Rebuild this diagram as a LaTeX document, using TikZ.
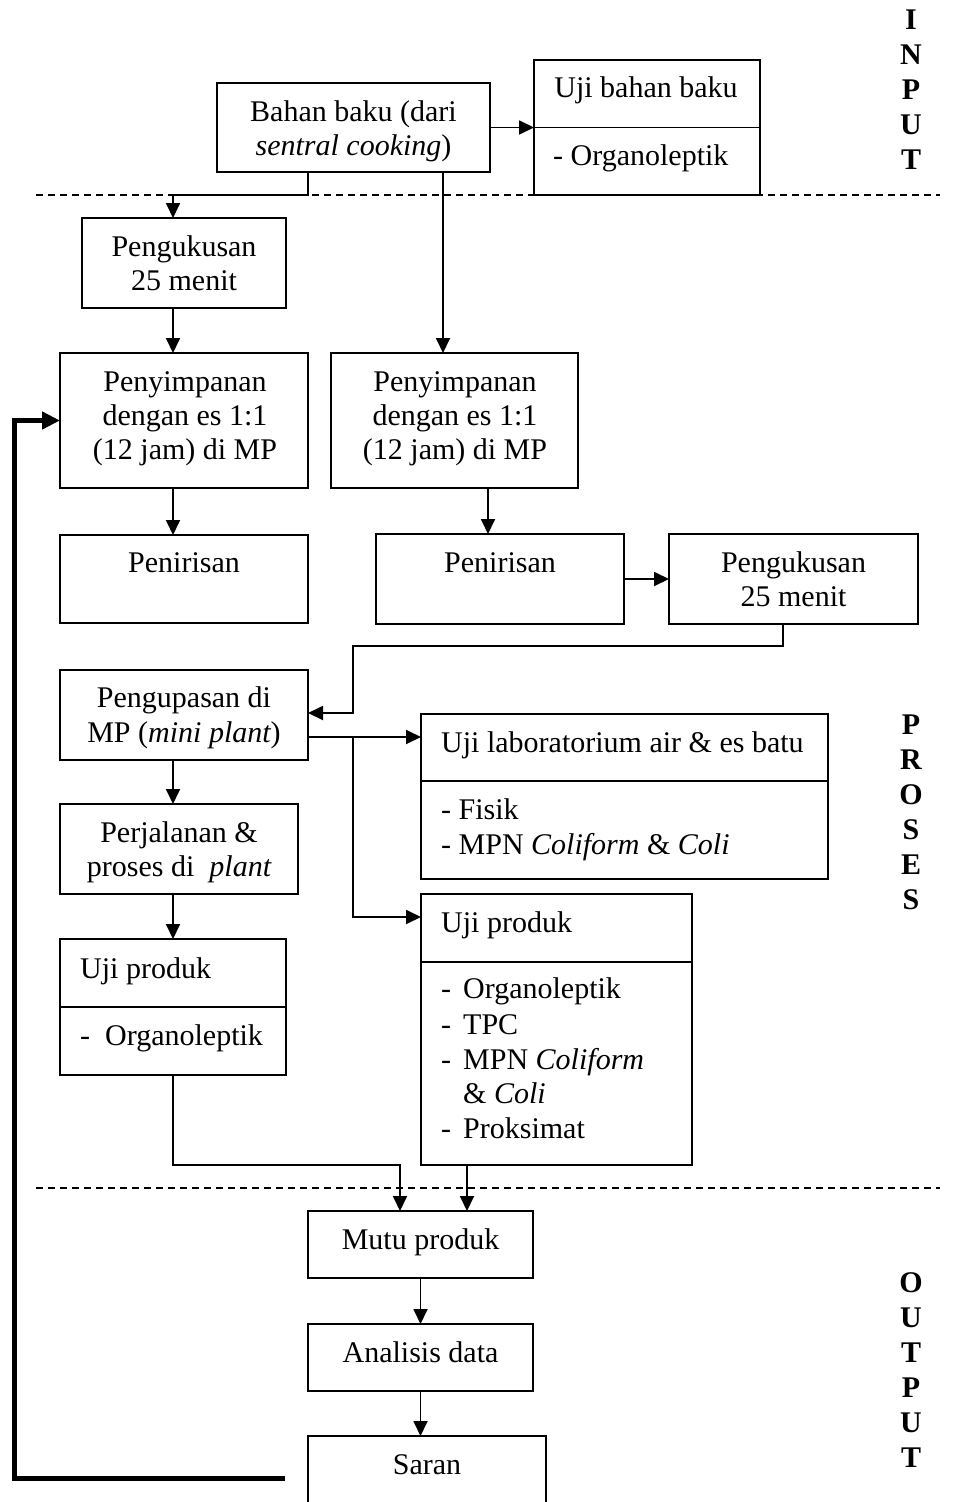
\documentclass[tikz,border=0pt]{standalone}
\usepackage{fontspec}
\setmainfont{Liberation Serif}
\usetikzlibrary{arrows.meta,calc}
\begin{document}
\begin{tikzpicture}[x=1pt,y=-1pt,
 box/.style={draw, line width=1.8pt, rectangle, inner sep=0pt, outer sep=0pt},
 t/.style={anchor=base, inner sep=0pt, font=\fontsize{30}{34.5}\selectfont},
 tl/.style={t, anchor=base west},
 side/.style={inner sep=0pt, align=center, font=\fontsize{30}{35}\selectfont\bfseries},
 arr/.style={line width=1.8pt, -{Triangle[length=15pt,width=14pt]}},
 fbk/.style={line width=5pt, -{Triangle[length=18pt,width=17pt]}},
 sep/.style={line width=1.6pt, dash pattern=on 7pt off 5pt},
 divl/.style={line width=1.8pt}]
\useasboundingbox (0,0) rectangle (954,1502);

% boxes
\node[box, minimum width=273pt, minimum height=89pt] (bahan) at (353.5,127.5) {};
\node[box, minimum width=226pt, minimum height=135pt] (ujibb) at (647,127.5) {};
\node[box, minimum width=204pt, minimum height=90pt] (peng1) at (184,263) {};
\node[box, minimum width=248pt, minimum height=135pt] (simp1) at (184,420.5) {};
\node[box, minimum width=247pt, minimum height=135pt] (simp2) at (454.5,420.5) {};
\node[box, minimum width=248pt, minimum height=88pt] (pen1) at (184,579) {};
\node[box, minimum width=248pt, minimum height=90pt] (pen2) at (500,579) {};
\node[box, minimum width=249pt, minimum height=90pt] (peng2) at (793.5,579) {};
\node[box, minimum width=248pt, minimum height=90pt] (kupas) at (184,715) {};
\node[box, minimum width=238pt, minimum height=90pt] (jalan) at (179,849) {};
\node[box, minimum width=226pt, minimum height=136pt] (ujip1) at (173,1007) {};
\node[box, minimum width=407pt, minimum height=165pt] (ujilab) at (624.5,796.5) {};
\node[box, minimum width=271pt, minimum height=271pt] (ujip2) at (556.5,1029.5) {};
\node[box, minimum width=225pt, minimum height=67pt] (mutu) at (420.5,1244.5) {};
\node[box, minimum width=225pt, minimum height=67pt] (anal) at (420.5,1357.5) {};
\node[box, minimum width=238pt, minimum height=84pt] (saran) at (427,1478) {};

% dividers
\draw[divl] (ujibb.west) -- (ujibb.east);
\draw[divl] (ujip1.west) -- (ujip1.east);
\draw[divl] ([yshift=15.5pt]ujilab.west) -- ([yshift=15.5pt]ujilab.east);
\draw[divl] ([yshift=67.5pt]ujip2.west) -- ([yshift=67.5pt]ujip2.east);

% texts
\node[t] (tb1) at (353.5,121) {Bahan baku (dari};
\node[t] (tb2) at (353.5,155) {\itshape sentral cooking\upshape)};
\node[t] (tu1) at (646,97) {Uji bahan baku};
\node[tl] (tu2) at (553,165) {- Organoleptik};
\node[t] (tp1) at (184,256) {Pengukusan};
\node[t] (tp2) at (184,290) {25 menit};
\node[t] (ts1) at (185,391) {Penyimpanan};
\node[t] (ts2) at (185,425) {dengan es 1:1};
\node[t] (ts3) at (185,459) {(12 jam) di MP};
\node[t] (ts4) at (455,391) {Penyimpanan};
\node[t] (ts5) at (455,425) {dengan es 1:1};
\node[t] (ts6) at (455,459) {(12 jam) di MP};
\node[t] (tn1) at (184,572) {Penirisan};
\node[t] (tn2) at (500,572) {Penirisan};
\node[t] (tk1) at (793.5,572) {Pengukusan};
\node[t] (tk2) at (793.5,606) {25 menit};
\node[t] (tg1) at (184,707) {Pengupasan di};
\node[t] (tg2) at (184,742) {MP (\itshape mini plant\upshape)};
\node[t] (tj1) at (179,842) {Perjalanan \&};
\node[t] (tj2) at (179,876) {proses di~~\itshape plant};
\node[tl] (tq1) at (80,978) {Uji produk};
\node[tl] (tq2) at (80,1045) {-~~Organoleptik};
\node[tl] (tl1) at (441,752) {Uji laboratorium air \& es batu};
\node[tl] (tl2) at (441,819) {- Fisik};
\node[tl] (tl3) at (441,854) {- MPN \itshape Coliform \upshape\& \itshape Coli};
\node[tl] (tr0) at (441,932) {Uji produk};
\node[tl] (tr1) at (441,998) {-};
\node[tl] (tr2) at (463,998) {Organoleptik};
\node[tl] (tr3) at (441,1034) {-};
\node[tl] (tr4) at (463,1034) {TPC};
\node[tl] (tr5) at (441,1069) {-};
\node[tl] (tr6) at (463,1069) {MPN \itshape Coliform};
\node[tl] (tr7) at (463,1103) {\& \itshape Coli};
\node[tl] (tr8) at (441,1138) {-};
\node[tl] (tr9) at (463,1138) {Proksimat};
\node[t] (tm) at (420.5,1249) {Mutu produk};
\node[t] (ta) at (420.5,1362) {Analisis data};
\node[t] (tsr) at (427,1474) {Saran};

% side labels
\node[side] (lin) at (911,90) {I\\N\\P\\U\\T};
\node[side] (lpr) at (911,812) {P\\R\\O\\S\\E\\S};
\node[side] (lout) at (911,1370.5) {O\\U\\T\\P\\U\\T};

% separators
\draw[sep] (36,195) -- (940,195);
\draw[sep] (36,1188) -- (940,1188);

% connectors
\draw[arr] (bahan.east) -- (bahan.east -| ujibb.west);
\draw[arr] ([xshift=-45.5pt]bahan.south) -- ++(0,23) -| ([xshift=-11pt]peng1.north);
\draw[arr] ([xshift=89.5pt]bahan.south) -- ([xshift=89.5pt]bahan.south |- simp2.north);
\draw[arr] ([xshift=-11pt]peng1.south) -- ([xshift=-11pt]simp1.north);
\draw[arr] ([xshift=-11pt]simp1.south) -- ([xshift=-11pt]pen1.north);
\draw[arr] ([xshift=33.5pt]simp2.south) -- ([xshift=33.5pt]simp2.south |- pen2.north);
\draw[arr] (pen2.east) -- (peng2.west);
\coordinate (j1) at (353,646);
\draw[arr] ([xshift=-10.5pt]peng2.south) |- (j1) |- ([yshift=2pt]kupas.east);
\draw[arr] ([yshift=-22pt]kupas.east) -- ([yshift=-22pt]kupas.east -| ujilab.west);
\coordinate (j2) at (353,737);
\draw[arr] (j2) |- ([yshift=112.5pt]ujip2.west);
\draw[arr] ([xshift=-11pt]kupas.south) -- ([xshift=-11pt]kupas.south |- jalan.north);
\draw[arr] (ujip1.north |- jalan.south) -- (ujip1.north);
\draw[arr] (ujip1.south) -- ++(0,90) -| ([xshift=-20.5pt]mutu.north);
\draw[arr] ([xshift=-89.5pt]ujip2.south) -- ([xshift=-89.5pt]ujip2.south |- mutu.north);
\draw[arr] (mutu.south) -- (anal.north);
\draw[arr] (anal.south) -- (anal.south |- saran.north);
\coordinate (fb) at (14,1478);
\draw[fbk] ([xshift=-23pt]saran.west) -- (fb) |- (simp1.west);
\end{tikzpicture}
\end{document}
